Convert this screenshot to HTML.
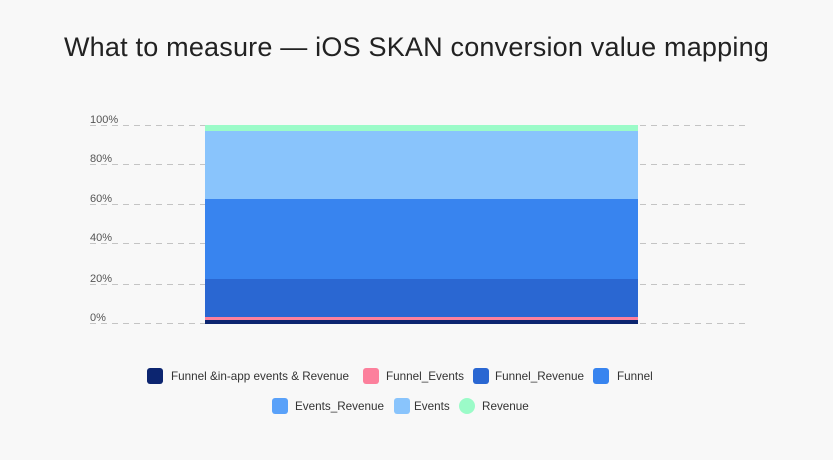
<!DOCTYPE html>
<html><head><style>
body{margin:0;width:833px;height:460px;background:#f8f8f8;font-family:"Liberation Sans",sans-serif;overflow:hidden;position:relative}
.t{position:absolute;top:32px;left:0;width:833px;text-align:center;font-size:27px;color:#222;letter-spacing:0.2px}
.lg{position:absolute;font-size:11.7px;color:#333;white-space:nowrap}
.sw{position:absolute;width:16px;height:16px;border-radius:3px}
</style></head><body>
<div class="t">What to measure — iOS SKAN conversion value mapping</div>
<svg width="833" height="460" style="position:absolute;left:0;top:0">
<g stroke="#c4c4c4" stroke-width="1" stroke-dasharray="6,5">
<line x1="90" x2="746" y1="125.5" y2="125.5"/>
<line x1="90" x2="746" y1="164.5" y2="164.5"/>
<line x1="90" x2="746" y1="204.5" y2="204.5"/>
<line x1="90" x2="746" y1="243.5" y2="243.5"/>
<line x1="90" x2="746" y1="284.5" y2="284.5"/>
<line x1="90" x2="746" y1="323.5" y2="323.5"/>
</g>
<g font-size="11" fill="#555" font-family="Liberation Sans">
<text x="90" y="123">100%</text><text x="90" y="162">80%</text><text x="90" y="202">60%</text>
<text x="90" y="241">40%</text><text x="90" y="282">20%</text><text x="90" y="321">0%</text>
</g>
<rect x="205" y="125" width="433" height="6" fill="#9bfbc8"/>
<rect x="205" y="131" width="433" height="68" fill="#89c4fc"/>
<rect x="205" y="199" width="433" height="80" fill="#3884ef"/>
<rect x="205" y="279" width="433" height="38" fill="#2a67d2"/>
<rect x="205" y="317" width="433" height="3" fill="#fc809c"/>
<rect x="205" y="320" width="433" height="4" fill="#0c2570"/>
</svg>
<div class="sw" style="left:147px;top:368px;background:#0c2570"></div><div class="lg" style="left:171px;top:370px">Funnel &amp;in-app events &amp; Revenue</div>
<div class="sw" style="left:363px;top:368px;background:#fc809c"></div><div class="lg" style="left:386px;top:370px">Funnel_Events</div>
<div class="sw" style="left:473px;top:368px;background:#2a67d2"></div><div class="lg" style="left:495px;top:370px">Funnel_Revenue</div>
<div class="sw" style="left:593px;top:368px;background:#3884ef"></div><div class="lg" style="left:617px;top:370px">Funnel</div>
<div class="sw" style="left:272px;top:398px;background:#59a1f9"></div><div class="lg" style="left:295px;top:400px">Events_Revenue</div>
<div class="sw" style="left:394px;top:398px;background:#89c4fc"></div><div class="lg" style="left:414px;top:400px">Events</div>
<div class="sw" style="left:459px;top:398px;border-radius:50%;background:#9bfbc8"></div><div class="lg" style="left:482px;top:400px">Revenue</div>
</body></html>
